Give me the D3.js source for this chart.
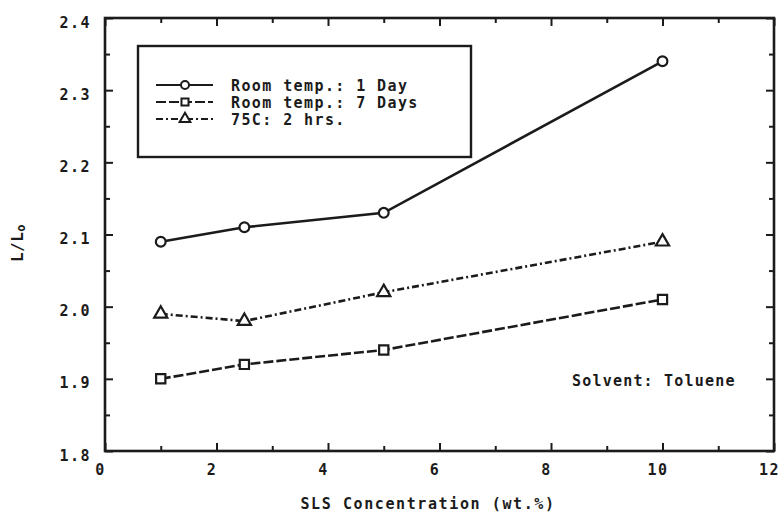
<!DOCTYPE html>
<html>
<head>
<meta charset="utf-8">
<script src="https://cdn.jsdelivr.net/npm/d3@7/dist/d3.min.js"></script>
<style>
  html, body { margin: 0; padding: 0; background: #fff; }
  svg { display: block; }
  .tick text { font-family: "DejaVu Sans Mono", monospace; font-weight: bold; font-size: 15px; letter-spacing: 1.5px; fill: #1b1b1b; }
</style>
</head>
<body>
<svg id="chart" width="779" height="513"></svg>
<script>
// SLS concentration (wt.%) at which each sample was measured
const concentration = [1, 2.5, 5, 10];

// Swelling ratio L/Lo for each curing condition
const roomTemp1Day  = [2.09, 2.11, 2.13, 2.34];
const roomTemp7Days = [1.90, 1.92, 1.94, 2.01];
const hot75C2hrs    = [1.99, 1.98, 2.02, 2.09];

const seriesNames = ["Room temp.: 1 Day", "Room temp.: 7 Days", "75C: 2 hrs."];

const xMajorTicks = [0, 2, 4, 6, 8, 10, 12];
const xMinorTicks = [1, 3, 5, 7, 9, 11];
const yMajorTicks = [1.8, 1.9, 2.0, 2.1, 2.2, 2.3, 2.4];
const yMinorTicks = [1.85, 1.95, 2.05, 2.15, 2.25, 2.35];
const yTickLabels = ["1.8", "1.9", "2.0", "2.1", "2.2", "2.3", "2.4"];

const ink = "#1b1b1b";
const monoFont = "DejaVu Sans Mono, monospace";
const svg = d3.select("#chart");

const plotLeft = 105, plotRight = 774, plotTop = 18, plotBottom = 451;
const x = d3.scaleLinear().domain([0, 12]).range([plotLeft, plotRight]);
const y = d3.scaleLinear().domain([1.8, 2.4]).range([plotBottom, plotTop]);

// Inward-pointing ticks on all four sides
function tickAxis(axisFn, scale, values, size, labels) {
  const a = axisFn(scale).tickValues(values).tickSize(-size).tickPadding(0);
  if (labels) a.tickFormat(labels); else a.tickFormat("");
  return a;
}

const gBottom = svg.append("g").attr("transform", `translate(0,${plotBottom})`);
gBottom.append("g").call(tickAxis(d3.axisBottom, x, xMinorTicks, 5));
gBottom.append("g").call(tickAxis(d3.axisBottom, x, xMajorTicks, 8, d => d3.format("d")(d)))
  .call(g => g.selectAll(".tick text").attr("x", -5).attr("y", 13).attr("dy", "0.71em"));

const gTop = svg.append("g").attr("transform", `translate(0,${plotTop})`);
gTop.append("g").call(tickAxis(d3.axisTop, x, xMinorTicks, 5));
gTop.append("g").call(tickAxis(d3.axisTop, x, xMajorTicks, 8));

const gLeft = svg.append("g").attr("transform", `translate(${plotLeft},0)`);
gLeft.append("g").call(tickAxis(d3.axisLeft, y, yMinorTicks, 5));
gLeft.append("g").call(tickAxis(d3.axisLeft, y, yMajorTicks, 8, (d, i) => yTickLabels[i]))
  .call(g => g.selectAll(".tick text").attr("x", -14).attr("dy", "0.6em"));

const gRight = svg.append("g").attr("transform", `translate(${plotRight},0)`);
gRight.append("g").call(tickAxis(d3.axisRight, y, yMinorTicks, 5));
gRight.append("g").call(tickAxis(d3.axisRight, y, yMajorTicks, 8));

svg.selectAll(".domain").remove();
svg.selectAll(".tick line").attr("stroke", ink).attr("stroke-width", 2);

// Plot frame
svg.append("rect")
  .attr("x", plotLeft).attr("y", plotTop)
  .attr("width", plotRight - plotLeft).attr("height", plotBottom - plotTop)
  .attr("fill", "none").attr("stroke", ink).attr("stroke-width", 2.6);

// Axis titles
svg.append("text")
  .attr("x", 428).attr("y", 509)
  .attr("text-anchor", "middle")
  .style("font-family", monoFont).style("font-weight", "bold")
  .style("font-size", "15px").style("letter-spacing", "1.6px")
  .attr("fill", ink)
  .text("SLS Concentration (wt.%)");

const yTitle = svg.append("text")
  .attr("transform", "translate(23,243) rotate(-90)")
  .attr("text-anchor", "middle")
  .style("font-family", monoFont).style("font-weight", "bold")
  .style("font-size", "16px").style("letter-spacing", "0.5px")
  .attr("fill", ink);
yTitle.append("tspan").text("L/L");
yTitle.append("tspan").attr("dy", 2).style("font-size", "12px").text("o");

// Series definitions
const series = [
  { name: seriesNames[0], values: roomTemp1Day,  dash: null,       marker: "circle" },
  { name: seriesNames[1], values: roomTemp7Days, dash: "10,3",     marker: "square" },
  { name: seriesNames[2], values: hot75C2hrs,    dash: "7,3,2,3",  marker: "triangle" }
];

const symbolType = { circle: d3.symbolCircle, square: d3.symbolSquare, triangle: d3.symbolTriangle };
const symbolSize = { circle: 75, square: 85, triangle: 75 };

const line = d3.line().x(d => x(d[0])).y(d => y(d[1]));

series.forEach(s => {
  const pts = concentration.map((c, i) => [c, s.values[i]]);
  svg.append("path")
    .datum(pts)
    .attr("d", line)
    .attr("fill", "none")
    .attr("stroke", ink)
    .attr("stroke-width", 2.6)
    .attr("stroke-dasharray", s.dash);
  svg.append("g").selectAll("path")
    .data(pts)
    .join("path")
    .attr("transform", d => `translate(${x(d[0])},${y(d[1])})`)
    .attr("d", d3.symbol().type(symbolType[s.marker]).size(symbolSize[s.marker]))
    .attr("fill", "#fff")
    .attr("stroke", ink)
    .attr("stroke-width", 2.2);
});

// Legend
const legend = svg.append("g");
legend.append("rect")
  .attr("x", 138).attr("y", 46).attr("width", 333).attr("height", 111)
  .attr("fill", "#fff").attr("stroke", ink).attr("stroke-width", 2.4);

const rowY = [85, 102, 119];
series.forEach((s, i) => {
  const g = legend.append("g").attr("transform", `translate(0,${rowY[i]})`);
  g.append("line")
    .attr("x1", 156).attr("x2", 213).attr("y1", 0).attr("y2", 0)
    .attr("stroke", ink).attr("stroke-width", 2.2)
    .attr("stroke-dasharray", s.dash);
  g.append("path")
    .attr("transform", "translate(185,0)")
    .attr("d", d3.symbol().type(symbolType[s.marker]).size(50))
    .attr("fill", "#fff").attr("stroke", ink).attr("stroke-width", 2);
  g.append("text")
    .attr("x", 231).attr("y", 5.5)
    .style("font-family", monoFont).style("font-weight", "bold")
    .style("font-size", "15px").style("letter-spacing", "1.4px")
    .attr("fill", ink)
    .text(s.name);
});

// Annotation
svg.append("text")
  .attr("x", 572).attr("y", 386)
  .style("font-family", monoFont).style("font-weight", "bold")
  .style("font-size", "15px").style("letter-spacing", "1.2px")
  .attr("fill", ink)
  .text("Solvent: Toluene");
</script>
</body>
</html>
